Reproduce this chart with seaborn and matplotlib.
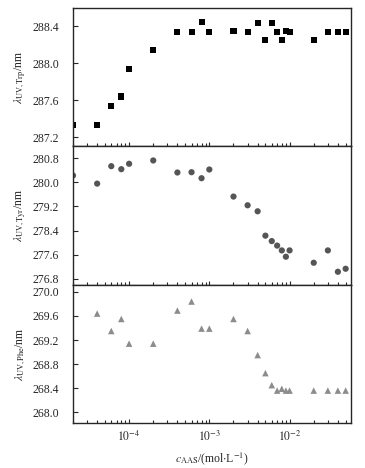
import numpy as np
import pandas as pd
import seaborn as sns
import matplotlib
matplotlib.use("Agg")
import matplotlib.pyplot as plt
from matplotlib.ticker import LogLocator, FixedLocator, FormatStrFormatter, NullFormatter

# concentrations of AAS (mol/L)
conc = [2e-5, 4e-5, 6e-5, 8e-5, 1e-4, 2e-4, 4e-4, 6e-4, 8e-4, 1e-3,
        2e-3, 3e-3, 4e-3, 5e-3, 6e-3, 7e-3, 8e-3, 9e-3, 1e-2,
        2e-2, 3e-2, 4e-2, 5e-2]

trp = [287.33, 287.33, 287.54, 287.64, 287.94, 288.14, 288.34, 288.34, 288.45, 288.34,
       288.35, 288.34, 288.44, 288.25, 288.44, 288.34, 288.25, 288.35, 288.34,
       288.25, 288.34, 288.34, 288.34]

tyr = [280.23, 279.96, 280.54, 280.44, 280.62, 280.73, 280.33, 280.34, 280.14, 280.43,
       279.53, 279.24, 279.04, 278.23, 278.05, 277.90, 277.74, 277.53, 277.74,
       277.33, 277.74, 277.03, 277.13]

# no Phe value at the lowest concentration
conc_phe = conc[1:]
phe = [269.64, 269.35, 269.55, 269.14, 269.14, 269.69, 269.84, 269.39, 269.39,
       269.55, 269.35, 268.95, 268.65, 268.45, 268.36, 268.39, 268.36, 268.36,
       268.36, 268.36, 268.36, 268.36]

sns.set_style("ticks")
plt.rcParams['font.family'] = ['Liberation Serif', 'DejaVu Serif']
plt.rcParams['mathtext.fontset'] = 'stix'
plt.rcParams['axes.linewidth'] = 1.0

fig, axes = plt.subplots(3, 1, figsize=(3.65, 4.68), dpi=100, sharex=True)
fig.subplots_adjust(left=0.2, right=0.962, top=0.983, bottom=0.096, hspace=0)

panels = [
    (conc, trp, 's', 'black', 19, r'$\lambda_{\mathrm{UV,Trp}}$/nm',
     (287.1, 288.6), [287.2, 287.6, 288.0, 288.4]),
    (conc, tyr, 'o', '#555555', 20, r'$\lambda_{\mathrm{UV,Tyr}}$/nm',
     (276.6, 281.2), [276.8, 277.6, 278.4, 279.2, 280.0, 280.8]),
    (conc_phe, phe, '^', '#8c8c8c', 22, r'$\lambda_{\mathrm{UV,Phe}}$/nm',
     (267.82, 270.12), [268.0, 268.4, 268.8, 269.2, 269.6, 270.0]),
]

for ax, (x, y, mk, col, size, lab, ylim, yt) in zip(axes, panels):
    df = pd.DataFrame({'c': x, 'lam': y})
    sns.scatterplot(data=df, x='c', y='lam', marker=mk, color=col, s=size,
                    edgecolor='none', ax=ax, legend=False)
    ax.set_xscale('log')
    ax.set_xlim(2e-5, 0.0585)
    ax.set_ylim(*ylim)
    ax.yaxis.set_major_locator(FixedLocator(yt))
    ax.yaxis.set_major_formatter(FormatStrFormatter('%.1f'))
    ax.set_ylabel(lab, fontsize=8.5, labelpad=3)
    ax.set_xlabel('')
    for s in ax.spines.values():
        s.set_visible(True)
        s.set_linewidth(1.0)
    ax.tick_params(axis='y', direction='in', length=3.5, width=0.8,
                   labelsize=8.5, right=False, pad=10)
    ax.tick_params(axis='x', which='major', direction='in', length=3, width=0.8,
                   labelsize=8.5, top=False, pad=5)
    ax.tick_params(axis='x', which='minor', direction='in', length=2.2, width=0.8,
                   top=False)
    ax.xaxis.set_minor_locator(LogLocator(base=10, subs=np.arange(2, 10)))
    ax.xaxis.set_minor_formatter(NullFormatter())

axes[-1].xaxis.set_major_locator(FixedLocator([1e-4, 1e-3, 1e-2]))
axes[-1].set_xticklabels([r'$10^{-4}$', r'$10^{-3}$', r'$10^{-2}$'])
axes[-1].set_xlabel(r'$c_{\mathrm{AAS}}$/(mol$\cdot$L$^{-1}$)', fontsize=8.5, labelpad=4)

fig.align_ylabels(axes)
fig.savefig('out.png', dpi=100)
